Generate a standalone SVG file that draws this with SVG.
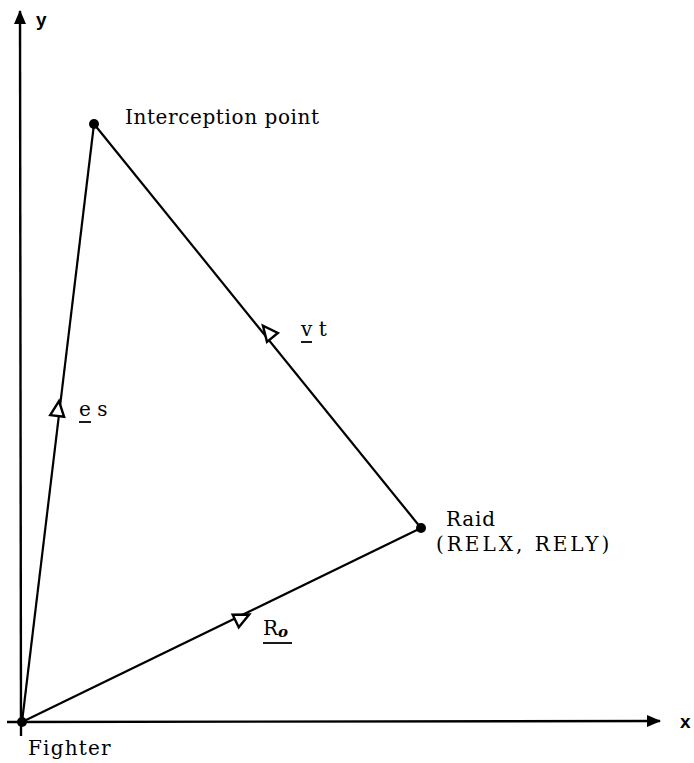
<svg xmlns="http://www.w3.org/2000/svg" width="694" height="763" viewBox="0 0 694 763">
<defs>
<style>
.ln{stroke:#000;stroke-width:2.2;fill:none}
.ax{stroke:#000;stroke-width:2.4;fill:none}
.tri{stroke:#000;stroke-width:2.4;fill:#fff;stroke-linejoin:miter}
.lbl{font-family:"DejaVu Serif","Liberation Serif",serif;font-size:20px;fill:#000}
.axl{font-family:"Liberation Sans",Arial,sans-serif;font-size:19px;font-weight:bold;fill:#000}
.ul{stroke:#000;stroke-width:1.8}
</style>
<marker id="ah" viewBox="0 0 14 12" refX="13" refY="6" markerWidth="14" markerHeight="12" markerUnits="userSpaceOnUse" orient="auto">
<path d="M0,0 L14,6 L0,12 Z" fill="#000"/>
</marker>
</defs>
<g id="axes">
<line class="ax" x1="21" y1="736" x2="20" y2="11" marker-end="url(#ah)"/>
<line class="ax" x1="7" y1="722" x2="660" y2="721" marker-end="url(#ah)"/>
<text class="axl" x="36" y="26">y</text>
<text class="axl" x="680" y="728">x</text>
</g>
<g id="connectors">
<line class="ln" x1="22" y1="722" x2="94" y2="124"/>
<line class="ln" x1="94" y1="124" x2="421" y2="528"/>
<line class="ln" x1="22" y1="722" x2="421" y2="528"/>
<g transform="translate(58,409) rotate(-83.1)"><path class="tri" d="M8,0 L-7,-7 L-7,7 Z"/></g>
<g transform="translate(268,332) rotate(231)"><path class="tri" d="M8,0 L-7,-7 L-7,7 Z"/></g>
<g transform="translate(242,618) rotate(-25.9)"><path class="tri" d="M8,0 L-7,-7 L-7,7 Z"/></g>
</g>
<g id="fighter">
<circle cx="22" cy="722" r="5"/>
<text class="lbl" x="28" y="755" letter-spacing="1.2">Fighter</text>
</g>
<g id="interception">
<circle cx="94" cy="124" r="5"/>
<text class="lbl" x="125" y="124" letter-spacing="0.6">Interception point</text>
</g>
<g id="raid">
<circle cx="421" cy="528" r="5"/>
<text class="lbl" x="446" y="526" letter-spacing="0.8">Raid</text>
<text class="lbl" x="436" y="551" letter-spacing="3">(RELX, RELY)</text>
</g>
<g id="labels">
<text class="lbl" x="301" y="336">v t</text>
<line class="ul" x1="301" y1="342" x2="312" y2="342"/>
<text class="lbl" x="79" y="416">e s</text>
<line class="ul" x1="79" y1="422" x2="91" y2="422"/>
<text class="lbl" x="263" y="635">R<tspan font-size="15" font-style="italic" font-weight="bold" dy="2">o</tspan></text>
<line class="ul" x1="263" y1="643" x2="292" y2="643"/>
</g>
</svg>
